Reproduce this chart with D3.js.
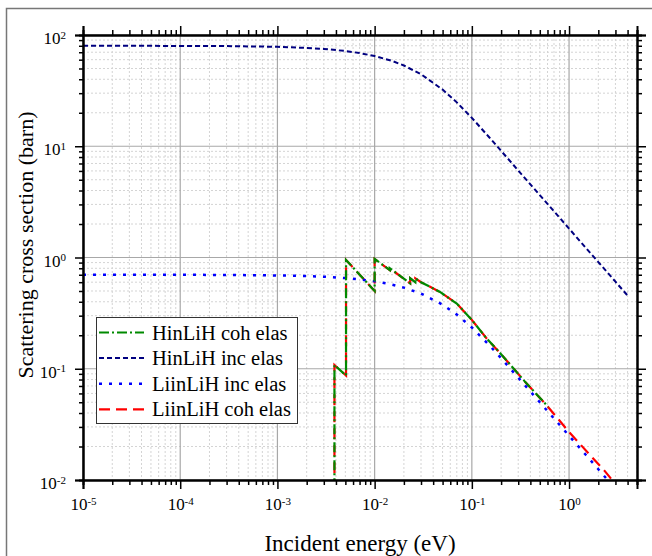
<!DOCTYPE html>
<html lang="en">
<head>
  <meta charset="UTF-8">
  <title>Scattering cross section</title>
  <script src="https://cdn.jsdelivr.net/npm/d3@7"></script>
  <style>
    body { margin: 0; background: #fff; }
    text { font-family: "Liberation Serif", "Times New Roman", serif; }
  </style>
</head>
<body>
  <svg width="652" height="556" id="main"></svg>
</body>
<script>
  // incident energy grid (eV) for the incoherent curves
  const incEnergy = [1e-5, 1e-4, 3e-4, 1e-3, 2e-3, 3e-3, 5e-3, 7e-3, 0.01, 0.015, 0.02, 0.03,
    0.05, 0.07, 0.1, 0.15, 0.2, 0.3, 0.5, 0.7, 1, 1.5, 2, 3, 4];
  // H in LiH incoherent elastic (barn)
  const hIncValues = [80.0, 79.8, 79.5, 78.3, 76.5, 75.0, 71.8, 68.8, 64.7, 58.6, 53.2, 44.4,
    32.3, 24.8, 18.0, 12.1, 9.09, 6.06, 3.64, 2.60, 1.82, 1.21, 0.91, 0.606, 0.455];
  // Li in LiH incoherent elastic (barn)
  const liIncValues = [0.700, 0.699, 0.697, 0.690, 0.681, 0.672, 0.653, 0.636, 0.611, 0.572, 0.536, 0.474,
    0.377, 0.307, 0.235, 0.164, 0.1245, 0.0833, 0.050, 0.0357, 0.025, 0.0167, 0.0125, 0.0083, 0.0062];

  // coherent elastic, Bragg edges (repeated energies are the jumps)
  const liCohEnergy = [0.00386, 0.00386, 0.00508, 0.00508, 0.0100, 0.0100, 0.0143, 0.0143, 0.0232, 0.0232,
    0.0262, 0.0262, 0.030, 0.035, 0.047, 0.07, 0.1, 0.14, 0.2, 0.35, 0.6, 1.0, 1.6, 2.3, 3.0];
  const liCohValues = [0.004, 0.108, 0.087, 0.95, 0.50, 0.97, 0.77, 0.80, 0.585, 0.65,
    0.60, 0.65, 0.60, 0.56, 0.49, 0.385, 0.275, 0.19, 0.135, 0.077, 0.046, 0.027, 0.0172, 0.0122, 0.0092];
  const hCohEnergy = [0.00386, 0.00386, 0.00508, 0.00508, 0.0100, 0.0100, 0.0143, 0.0143, 0.0232, 0.0232,
    0.0262, 0.0262, 0.030, 0.035, 0.047, 0.07, 0.1, 0.14, 0.2, 0.35, 0.61];
  const hCohValues = [0.004, 0.108, 0.087, 0.95, 0.50, 0.97, 0.77, 0.80, 0.585, 0.65,
    0.60, 0.65, 0.60, 0.56, 0.49, 0.385, 0.275, 0.19, 0.135, 0.077, 0.0455];

  const xDecades = [-5, -4, -3, -2, -1, 0];
  const yDecades = [-2, -1, 0, 1, 2];

  const series = [
    {name: 'HinLiH coh elas', e: hCohEnergy, v: hCohValues, color: '#008a00', dash: '10,3,2,3', width: 2.2},
    {name: 'HinLiH inc elas', e: incEnergy, v: hIncValues, color: '#000080', dash: '5,3', width: 2},
    {name: 'LiinLiH inc elas', e: incEnergy, v: liIncValues, color: '#0000ff', dash: '3,7', width: 2.5},
    {name: 'LiinLiH coh elas', e: liCohEnergy, v: liCohValues, color: '#ff0000', dash: '11,6', width: 2.2},
  ];

  const svg = d3.select('#main');
  const m = {left: 83, right: 637, top: 35, bottom: 480};

  const x = d3.scaleLog().domain([1e-5, 5]).range([m.left, m.right]);
  const y = d3.scaleLog().domain([1e-2, 1e2]).range([m.bottom, m.top]);

  // outer frame
  svg.append('rect')
    .attr('x', 6.5).attr('y', 8.5).attr('width', 700).attr('height', 600)
    .attr('fill', 'none').attr('stroke', '#777').attr('stroke-width', 1.5);

  const majorX = xDecades.map(d => Math.pow(10, d));
  const minorX = [];
  xDecades.forEach(d => {
    for (let k = 2; k <= 9; k++) {
      const v = k * Math.pow(10, d);
      if (v <= 5) minorX.push(v);
    }
  });
  const majorY = yDecades.map(d => Math.pow(10, d));
  const minorY = [];
  [-2, -1, 0, 1].forEach(d => {
    for (let k = 2; k <= 9; k++) minorY.push(k * Math.pow(10, d));
  });

  // grid
  const grid = svg.append('g');
  grid.selectAll('.gxm').data(minorX).enter().append('line')
    .attr('x1', d => x(d)).attr('x2', d => x(d)).attr('y1', m.top).attr('y2', m.bottom)
    .attr('stroke', '#d4d4d4').attr('stroke-width', 1).attr('stroke-dasharray', '2,2');
  grid.selectAll('.gym').data(minorY).enter().append('line')
    .attr('y1', d => y(d)).attr('y2', d => y(d)).attr('x1', m.left).attr('x2', m.right)
    .attr('stroke', '#d4d4d4').attr('stroke-width', 1).attr('stroke-dasharray', '2,2');
  grid.selectAll('.gx').data(majorX).enter().append('line')
    .attr('x1', d => x(d)).attr('x2', d => x(d)).attr('y1', m.top).attr('y2', m.bottom)
    .attr('stroke', '#a8a8a8').attr('stroke-width', 1.2);
  grid.selectAll('.gy').data(majorY).enter().append('line')
    .attr('y1', d => y(d)).attr('y2', d => y(d)).attr('x1', m.left).attr('x2', m.right)
    .attr('stroke', '#a8a8a8').attr('stroke-width', 1.2);

  // curves
  svg.append('clipPath').attr('id', 'clip')
    .append('rect').attr('x', m.left).attr('y', m.top)
    .attr('width', m.right - m.left).attr('height', m.bottom - m.top);

  const line = d3.line().x(d => x(d[0])).y(d => y(d[1]));
  const drawOrder = [series[3], series[2], series[1], series[0]];
  svg.append('g').attr('clip-path', 'url(#clip)')
    .selectAll('path').data(drawOrder).enter().append('path')
    .attr('d', s => line(s.e.map((e, i) => [e, s.v[i]])))
    .attr('fill', 'none')
    .attr('stroke', s => s.color)
    .attr('stroke-width', s => s.width)
    .attr('stroke-dasharray', s => s.dash);

  // axes
  function supLabels(sel) {
    sel.selectAll('.tick text').each(function(d) {
      const t = d3.select(this).text('');
      t.append('tspan').text('10');
      t.append('tspan').attr('dy', '-0.5em').style('font-size', '11px')
        .text(String(Math.round(Math.log10(d))));
    });
  }

  const ax = (gen, tx, ty) => svg.append('g').attr('transform', `translate(${tx},${ty})`).call(gen);

  const bottom = ax(d3.axisBottom(x).tickValues(majorX).tickSize(9).tickPadding(9), 0, m.bottom);
  ax(d3.axisBottom(x).tickValues(minorX).tickSize(5).tickFormat(''), 0, m.bottom);
  const left = ax(d3.axisLeft(y).tickValues(majorY).tickSize(8).tickPadding(9), m.left, 0);
  ax(d3.axisLeft(y).tickValues(minorY).tickSize(4).tickFormat(''), m.left, 0);
  ax(d3.axisTop(x).tickValues(majorX).tickSize(9).tickFormat(''), 0, m.top);
  ax(d3.axisTop(x).tickValues(minorX).tickSize(5).tickFormat(''), 0, m.top);
  ax(d3.axisRight(y).tickValues(majorY).tickSize(9).tickFormat(''), m.right, 0);
  ax(d3.axisRight(y).tickValues(minorY).tickSize(5).tickFormat(''), m.right, 0);

  svg.selectAll('.domain').attr('stroke', '#000').attr('stroke-width', 2);
  svg.selectAll('.tick line').attr('stroke', '#000').attr('stroke-width', 1.5);

  bottom.selectAll('.tick text').style('font-size', '17px').attr('fill', '#000');
  supLabels(bottom);
  left.selectAll('.tick text').style('font-size', '17px').attr('fill', '#000').attr('dy', '0.5em');
  supLabels(left);

  // titles
  svg.append('text').attr('x', (m.left + m.right) / 2).attr('y', 551)
    .attr('text-anchor', 'middle').style('font-size', '23px').text('Incident energy (eV)');
  svg.append('text').attr('transform', 'translate(33,245) rotate(-90)')
    .attr('text-anchor', 'middle').style('font-size', '22px').text('Scattering cross section (barn)');

  // legend
  const lg = svg.append('g').attr('transform', 'translate(96,317)');
  lg.append('rect').attr('x', 0.5).attr('y', 0.5).attr('width', 201).attr('height', 106)
    .attr('fill', '#fff').attr('stroke', '#333').attr('stroke-width', 1);
  const rows = lg.selectAll('.row').data(series).enter().append('g')
    .attr('transform', (d, i) => `translate(0,${15.5 + i * 25.6})`);
  rows.append('line').attr('x1', 3).attr('x2', 48).attr('y1', 0).attr('y2', 0)
    .attr('stroke', d => d.color).attr('stroke-width', d => d.width)
    .attr('stroke-dasharray', d => d.dash);
  rows.append('text').attr('x', 56).attr('y', 7).style('font-size', '20.5px').text(d => d.name);
</script>
</html>
